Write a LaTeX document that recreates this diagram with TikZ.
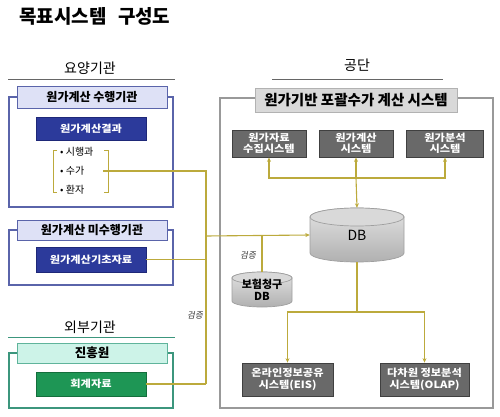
\documentclass[tikz,border=0pt]{standalone}
\usepackage{fontspec}
\setmainfont{Noto Sans CJK KR}
\newfontfamily\krit{Noto Sans CJK KR}[FakeSlant=0.2]
\newfontfamily\krwide{Noto Sans CJK KR}[FakeStretch=1.12]
\usetikzlibrary{arrows.meta}
\definecolor{lineC}{RGB}{188,170,60}
\definecolor{navyF}{RGB}{44,58,155}
\definecolor{navyD}{RGB}{30,40,120}
\definecolor{lavF}{RGB}{222,225,246}
\definecolor{lavD}{RGB}{90,100,170}
\definecolor{greenF}{RGB}{30,150,85}
\definecolor{greenD}{RGB}{20,110,60}
\definecolor{mintF}{RGB}{205,243,232}
\definecolor{mintD}{RGB}{95,180,155}
\definecolor{tealL}{RGB}{60,150,125}
\definecolor{grayBox}{RGB}{105,105,105}
\definecolor{grayHead}{RGB}{217,217,217}
\tikzset{
  conn/.style={draw=lineC, line width=1.1pt},
  arr/.style={conn, -{Stealth[length=4.5pt,width=4pt]}},
  rect/.style={rectangle, inner sep=0pt, align=center},
  outerA/.style={rect, draw=lavD, line width=1.1pt},
  outerB/.style={rect, draw=tealL, line width=1.1pt},
  outerR/.style={rect, draw=gray!80, line width=1.3pt},
  headA/.style={rect, draw=lavD, fill=lavF, line width=0.8pt, font=\fontsize{12}{14}\selectfont\bfseries},
  headB/.style={rect, draw=mintD, fill=mintF, line width=0.8pt, font=\fontsize{12.5}{14}\selectfont\bfseries},
  headR/.style={rect, draw=gray!60, fill=grayHead, line width=0.8pt, font=\fontsize{14.5}{16}\selectfont\bfseries},
  navybox/.style={rect, draw=navyD, fill=navyF, text=white, font=\krwide\fontsize{10}{12}\selectfont\bfseries},
  greenbox/.style={rect, draw=greenD, fill=greenF, text=white, font=\krwide\fontsize{10}{12}\selectfont\bfseries},
  graybox/.style={rect, draw=black!75, fill=grayBox, line width=0.8pt, text=white, font=\krwide\fontsize{10}{11.5}\selectfont\bfseries},
  sect/.style={font=\fontsize{14}{16}\selectfont},
  bullet/.style={anchor=west, inner sep=0pt, font=\fontsize{10}{12}\selectfont},
  verify/.style={inner sep=0pt, font=\fontsize{8.5}{10}\selectfont\krit, text=black!80},
}
\begin{document}
\begin{tikzpicture}[x=1pt,y=-1pt]
\useasboundingbox (0,0) rectangle (500,417);
% title
\node[anchor=west, inner sep=0pt, font=\fontsize{19}{21}\selectfont\bfseries] (title) at (19,16) {목표시스템\hspace{0.6em}구성도};

% ===== left: 요양기관
\node[sect] (yy) at (90,68) {요양기관};
\draw[draw=black!60, line width=0.9pt] (8,79) -- (175,79);
\node[outerA, minimum width=164pt, minimum height=110pt] (o1) at (91,152) {};
\node[headA, minimum width=150pt, minimum height=22pt] (h1) at (92,97) {원가계산 수행기관};
\node[navybox, minimum width=110pt, minimum height=23pt] (d1) at (91,128.5) {원가계산결과};
\node[bullet] (bl1) at (60,152) {• 시행과};
\node[bullet] (bl2) at (60,171) {• 수가};
\node[bullet] (bl3) at (60,190) {• 환자};
\draw[conn, line width=0.9pt] (57,150) -- (53,150) -- (53,192) -- (57,192);
\draw[conn, line width=0.9pt] (104,150) -- (108,150) -- (108,192) -- (104,192);

\node[outerA, minimum width=164pt, minimum height=55pt] (o2) at (91,257.5) {};
\node[headA, minimum width=150pt, minimum height=20pt] (h2) at (92,230) {원가계산 미수행기관};
\node[navybox, minimum width=110pt, minimum height=25pt] (d2) at (91,259.5) {원가계산기초자료};

% ===== left: 외부기관
\node[sect] (wb) at (90,327) {외부기관};
\draw[draw=tealL, line width=0.9pt] (8,337) -- (175,337);
\node[outerB, minimum width=164pt, minimum height=55pt] (o3) at (91,380.5) {};
\node[headB, minimum width=150pt, minimum height=20pt] (h3) at (92,353) {진흥원};
\node[greenbox, minimum width=110pt, minimum height=24pt] (g1) at (91,384) {회계자료};

% ===== right: 공단
\node[sect] (gd) at (357,65) {공단};
\draw[draw=black!60, line width=0.9pt] (272,79) -- (443,79);
\node[outerR, minimum width=273pt, minimum height=310pt] (oR) at (356.5,253) {};
\node[headR, minimum width=202pt, minimum height=24pt] (hR) at (356,100) {원가기반 포괄수가 계산 시스템};
\node[graybox, minimum width=74pt, minimum height=27pt] (b1) at (269,143.5) {원가자료\\수집시스템};
\node[graybox, minimum width=74pt, minimum height=27pt] (b2) at (356,143.5) {원가계산\\시스템};
\node[graybox, minimum width=77pt, minimum height=27pt] (b3) at (445,143.5) {원가분석\\시스템};

% DB cylinder
\shade[top color=gray!22, bottom color=gray!62, draw=gray!75, line width=0.7pt]
  (310,217) -- (310,253) arc[start angle=180, end angle=360, x radius=47pt, y radius=9pt]
  -- (404,217) arc[start angle=0, end angle=180, x radius=47pt, y radius=9pt] -- cycle;
\draw[fill=gray!30, draw=gray!75, line width=0.7pt] (357,217) ellipse [x radius=47pt, y radius=9pt];
\node[rect, minimum width=94pt, minimum height=54pt, font=\fontsize{14}{16}\selectfont] (db) at (357,235) {\raisebox{-8pt}{DB}};

% 보험청구 DB cylinder
\shade[top color=gray!22, bottom color=gray!62, draw=gray!75, line width=0.7pt]
  (232,278) -- (232,301) arc[start angle=180, end angle=360, x radius=30pt, y radius=6pt]
  -- (292,278) arc[start angle=0, end angle=180, x radius=30pt, y radius=6pt] -- cycle;
\draw[fill=gray!30, draw=gray!75, line width=0.7pt] (262,278) ellipse [x radius=30pt, y radius=6pt];
\node[rect, minimum width=60pt, minimum height=35pt, font=\fontsize{11}{12}\selectfont\bfseries] (ins) at (262,289.5) {\raisebox{-3pt}{\shortstack{보험청구\\DB}}};

\node[graybox, minimum width=91pt, minimum height=33pt] (eis) at (287.5,379.5) {온라인정보공유\\시스템(EIS)};
\node[graybox, minimum width=89pt, minimum height=33pt] (olap) at (424.5,379.5) {다차원 정보분석\\시스템(OLAP)};

% ===== connectors
\coordinate (sgend) at (103,171);
\coordinate (jA) at (206,171);
\coordinate (jB) at (206,236);
\coordinate (jC) at (206,259.5);
\coordinate (jD) at (206,384);
\coordinate (jI) at (262,236);
\draw[conn] (sgend) -- (jA) -- (jD);
\draw[conn] (d2.east) -- (jC);
\draw[conn] (g1.east) -- (jD);
\draw[arr] (jB) -- (db.west);
\draw[conn] (jI) -- (ins.north);
\node[verify] (v1) at (195,315) {검증};
\node[verify] (v2) at (248,255) {검증};

\coordinate (jm) at (356,178);
\draw[arr] (jm) -- (b2.south);
\draw[arr] (jm) -| (b1.south);
\draw[arr] (jm) -| (b3.south);
\draw[arr] (jm) -- (db.north);

\coordinate (jo) at (357,312);
\draw[conn] (db.south) -- (jo);
\draw[arr] (jo) -| (eis.north);
\draw[arr] (jo) -| (olap.north);
\end{tikzpicture}
\end{document}
